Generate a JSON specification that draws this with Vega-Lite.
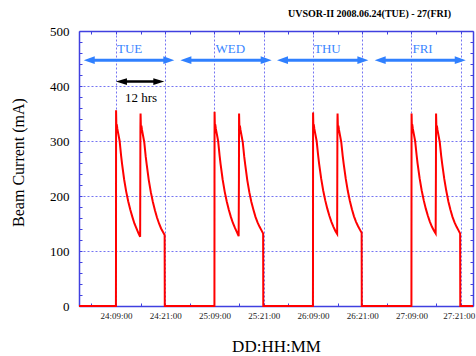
{
  "$schema": "https://vega.github.io/schema/vega-lite/v6.json",
  "autosize": "none",
  "width": 394,
  "height": 275,
  "padding": {"left": 79, "top": 31, "right": 3, "bottom": 50},
  "title": {"text": "UVSOR-II 2008.06.24(TUE) - 27(FRI)", "anchor": "end", "frame": "group", "font": "Liberation Serif", "fontSize": 10, "fontWeight": "bold", "color": "#000", "dx": -22, "offset": -4, "baseline": "bottom"},
  "config": {"font": "Liberation Serif", "view": {"stroke": null}},
  "datasets": {
    "cur": [
      {"t": "2008-06-24T00:00", "v": 0},
      {"t": "2008-06-24T09:00", "v": 0}, {"t": "2008-06-24T09:01", "v": 90}, {"t": "2008-06-24T09:02", "v": 356}, {"t": "2008-06-24T09:07", "v": 322}, {"t": "2008-06-24T09:12", "v": 330}, {"t": "2008-06-24T09:21", "v": 322}, {"t": "2008-06-24T09:36", "v": 312}, {"t": "2008-06-24T09:54", "v": 300}, {"t": "2008-06-24T10:15", "v": 274}, {"t": "2008-06-24T10:30", "v": 258}, {"t": "2008-06-24T11:00", "v": 230}, {"t": "2008-06-24T11:30", "v": 208}, {"t": "2008-06-24T12:00", "v": 190}, {"t": "2008-06-24T12:30", "v": 175}, {"t": "2008-06-24T13:00", "v": 162}, {"t": "2008-06-24T13:30", "v": 150}, {"t": "2008-06-24T14:00", "v": 141}, {"t": "2008-06-24T14:30", "v": 132}, {"t": "2008-06-24T14:54", "v": 126},
      {"t": "2008-06-24T14:58", "v": 326}, {"t": "2008-06-24T15:00", "v": 350}, {"t": "2008-06-24T15:06", "v": 320}, {"t": "2008-06-24T15:12", "v": 328}, {"t": "2008-06-24T15:21", "v": 320}, {"t": "2008-06-24T15:36", "v": 310}, {"t": "2008-06-24T15:54", "v": 298}, {"t": "2008-06-24T16:15", "v": 272}, {"t": "2008-06-24T16:30", "v": 257}, {"t": "2008-06-24T17:00", "v": 229}, {"t": "2008-06-24T17:30", "v": 207}, {"t": "2008-06-24T18:00", "v": 189}, {"t": "2008-06-24T18:30", "v": 174}, {"t": "2008-06-24T19:00", "v": 161}, {"t": "2008-06-24T19:30", "v": 150}, {"t": "2008-06-24T20:00", "v": 141}, {"t": "2008-06-24T20:30", "v": 134}, {"t": "2008-06-24T20:52", "v": 129}, {"t": "2008-06-24T20:54", "v": 0},
      {"t": "2008-06-25T09:00", "v": 0}, {"t": "2008-06-25T09:01", "v": 223}, {"t": "2008-06-25T09:02", "v": 353}, {"t": "2008-06-25T09:07", "v": 322}, {"t": "2008-06-25T09:12", "v": 330}, {"t": "2008-06-25T09:21", "v": 322}, {"t": "2008-06-25T09:36", "v": 312}, {"t": "2008-06-25T09:54", "v": 300}, {"t": "2008-06-25T10:15", "v": 274}, {"t": "2008-06-25T10:30", "v": 258}, {"t": "2008-06-25T11:00", "v": 230}, {"t": "2008-06-25T11:30", "v": 208}, {"t": "2008-06-25T12:00", "v": 190}, {"t": "2008-06-25T12:30", "v": 175}, {"t": "2008-06-25T13:00", "v": 162}, {"t": "2008-06-25T13:30", "v": 151}, {"t": "2008-06-25T14:00", "v": 142}, {"t": "2008-06-25T14:30", "v": 134}, {"t": "2008-06-25T14:54", "v": 127},
      {"t": "2008-06-25T14:58", "v": 229}, {"t": "2008-06-25T15:00", "v": 350}, {"t": "2008-06-25T15:06", "v": 320}, {"t": "2008-06-25T15:12", "v": 328}, {"t": "2008-06-25T15:21", "v": 320}, {"t": "2008-06-25T15:36", "v": 310}, {"t": "2008-06-25T15:54", "v": 298}, {"t": "2008-06-25T16:15", "v": 272}, {"t": "2008-06-25T16:30", "v": 257}, {"t": "2008-06-25T17:00", "v": 229}, {"t": "2008-06-25T17:30", "v": 207}, {"t": "2008-06-25T18:00", "v": 189}, {"t": "2008-06-25T18:30", "v": 175}, {"t": "2008-06-25T19:00", "v": 162}, {"t": "2008-06-25T19:30", "v": 152}, {"t": "2008-06-25T20:00", "v": 144}, {"t": "2008-06-25T20:30", "v": 137}, {"t": "2008-06-25T20:52", "v": 132}, {"t": "2008-06-25T20:54", "v": 0},
      {"t": "2008-06-26T09:00", "v": 0}, {"t": "2008-06-26T09:01", "v": 80}, {"t": "2008-06-26T09:02", "v": 352}, {"t": "2008-06-26T09:07", "v": 322}, {"t": "2008-06-26T09:12", "v": 330}, {"t": "2008-06-26T09:21", "v": 322}, {"t": "2008-06-26T09:36", "v": 312}, {"t": "2008-06-26T09:54", "v": 300}, {"t": "2008-06-26T10:15", "v": 275}, {"t": "2008-06-26T10:30", "v": 259}, {"t": "2008-06-26T11:00", "v": 232}, {"t": "2008-06-26T11:30", "v": 210}, {"t": "2008-06-26T12:00", "v": 192}, {"t": "2008-06-26T12:30", "v": 177}, {"t": "2008-06-26T13:00", "v": 164}, {"t": "2008-06-26T13:30", "v": 153}, {"t": "2008-06-26T14:00", "v": 144}, {"t": "2008-06-26T14:30", "v": 136}, {"t": "2008-06-26T14:54", "v": 131},
      {"t": "2008-06-26T14:58", "v": 335}, {"t": "2008-06-26T15:00", "v": 350}, {"t": "2008-06-26T15:06", "v": 320}, {"t": "2008-06-26T15:12", "v": 328}, {"t": "2008-06-26T15:21", "v": 320}, {"t": "2008-06-26T15:36", "v": 310}, {"t": "2008-06-26T15:54", "v": 298}, {"t": "2008-06-26T16:15", "v": 273}, {"t": "2008-06-26T16:30", "v": 258}, {"t": "2008-06-26T17:00", "v": 231}, {"t": "2008-06-26T17:30", "v": 209}, {"t": "2008-06-26T18:00", "v": 191}, {"t": "2008-06-26T18:30", "v": 176}, {"t": "2008-06-26T19:00", "v": 163}, {"t": "2008-06-26T19:30", "v": 153}, {"t": "2008-06-26T20:00", "v": 145}, {"t": "2008-06-26T20:30", "v": 138}, {"t": "2008-06-26T20:52", "v": 133}, {"t": "2008-06-26T20:54", "v": 0},
      {"t": "2008-06-27T09:00", "v": 0}, {"t": "2008-06-27T09:01", "v": 202}, {"t": "2008-06-27T09:02", "v": 350}, {"t": "2008-06-27T09:07", "v": 322}, {"t": "2008-06-27T09:12", "v": 330}, {"t": "2008-06-27T09:21", "v": 322}, {"t": "2008-06-27T09:36", "v": 312}, {"t": "2008-06-27T09:54", "v": 300}, {"t": "2008-06-27T10:15", "v": 275}, {"t": "2008-06-27T10:30", "v": 259}, {"t": "2008-06-27T11:00", "v": 232}, {"t": "2008-06-27T11:30", "v": 210}, {"t": "2008-06-27T12:00", "v": 192}, {"t": "2008-06-27T12:30", "v": 177}, {"t": "2008-06-27T13:00", "v": 164}, {"t": "2008-06-27T13:30", "v": 153}, {"t": "2008-06-27T14:00", "v": 144}, {"t": "2008-06-27T14:30", "v": 137}, {"t": "2008-06-27T14:54", "v": 132},
      {"t": "2008-06-27T14:58", "v": 244}, {"t": "2008-06-27T15:00", "v": 350}, {"t": "2008-06-27T15:06", "v": 320}, {"t": "2008-06-27T15:12", "v": 328}, {"t": "2008-06-27T15:21", "v": 320}, {"t": "2008-06-27T15:36", "v": 310}, {"t": "2008-06-27T15:54", "v": 298}, {"t": "2008-06-27T16:15", "v": 273}, {"t": "2008-06-27T16:30", "v": 258}, {"t": "2008-06-27T17:00", "v": 231}, {"t": "2008-06-27T17:30", "v": 209}, {"t": "2008-06-27T18:00", "v": 190}, {"t": "2008-06-27T18:30", "v": 175}, {"t": "2008-06-27T19:00", "v": 162}, {"t": "2008-06-27T19:30", "v": 152}, {"t": "2008-06-27T20:00", "v": 144}, {"t": "2008-06-27T20:30", "v": 137}, {"t": "2008-06-27T20:52", "v": 132}, {"t": "2008-06-27T20:54", "v": 0},
      {"t": "2008-06-28T00:00", "v": 0}
    ],
    "days": [
      {"t": "2008-06-24T01:09", "t2": "2008-06-24T23:13", "v": 447, "lx": "2008-06-24T09:00", "lv": 468, "label": "TUE"},
      {"t": "2008-06-25T00:42", "t2": "2008-06-25T22:57", "v": 447, "lx": "2008-06-25T09:00", "lv": 468, "label": "WED"},
      {"t": "2008-06-26T00:15", "t2": "2008-06-26T22:30", "v": 447, "lx": "2008-06-26T09:00", "lv": 468, "label": "THU"},
      {"t": "2008-06-27T00:03", "t2": "2008-06-27T22:14", "v": 447, "lx": "2008-06-27T09:00", "lv": 468, "label": "FRI"}
    ],
    "span": [
      {"t": "2008-06-24T09:00", "t2": "2008-06-24T20:47", "v": 408}
    ],
    "hrs": [
      {"t": "2008-06-24T15:06", "v": 379, "label": "12 hrs"}
    ]
  },
  "encoding": {
    "x": {"field": "t", "type": "temporal", "axis": null, "scale": {"domain": [{"year": 2008, "month": 6, "date": 24, "hours": 0}, {"year": 2008, "month": 6, "date": 28, "hours": 0}]}},
    "y": {"field": "v", "type": "quantitative", "axis": null, "scale": {"domain": [0, 500], "nice": false}}
  },
  "layer": [
    {
      "data": {"name": "cur"},
      "mark": {"type": "line", "color": "#ff0000", "strokeWidth": 2, "clip": false},
      "encoding": {
        "x": {"field": "t", "type": "temporal", "title": "DD:HH:MM",
          "scale": {"domain": [{"year": 2008, "month": 6, "date": 24, "hours": 0}, {"year": 2008, "month": 6, "date": 28, "hours": 0}]},
          "axis": {"orient": "bottom",
            "values": [
              {"year": 2008, "month": 6, "date": 24, "hours": 3}, {"year": 2008, "month": 6, "date": 24, "hours": 9}, {"year": 2008, "month": 6, "date": 24, "hours": 15}, {"year": 2008, "month": 6, "date": 24, "hours": 21},
              {"year": 2008, "month": 6, "date": 25, "hours": 3}, {"year": 2008, "month": 6, "date": 25, "hours": 9}, {"year": 2008, "month": 6, "date": 25, "hours": 15}, {"year": 2008, "month": 6, "date": 25, "hours": 21},
              {"year": 2008, "month": 6, "date": 26, "hours": 3}, {"year": 2008, "month": 6, "date": 26, "hours": 9}, {"year": 2008, "month": 6, "date": 26, "hours": 15}, {"year": 2008, "month": 6, "date": 26, "hours": 21},
              {"year": 2008, "month": 6, "date": 27, "hours": 3}, {"year": 2008, "month": 6, "date": 27, "hours": 9}, {"year": 2008, "month": 6, "date": 27, "hours": 15}, {"year": 2008, "month": 6, "date": 27, "hours": 21}
            ],
            "labelExpr": "(hours(datum.value) == 9 || hours(datum.value) == 21) ? timeFormat(datum.value, '%d:%H:%M') : ''",
            "labelFont": "Liberation Serif", "labelFontSize": 9, "labelColor": "#222", "labelPadding": 8, "labelFlush": false, "labelOverlap": false,
            "labelOffset": {"condition": {"test": "date(datum.value) == 27 && hours(datum.value) == 21", "value": -2}, "value": 0},
            "tickSize": -3, "tickColor": "#4040e0", "tickWidth": 1,
            "domainColor": "#4040e0", "domainWidth": 1.5,
            "grid": true, "gridColor": "#5050f0", "gridDash": [2, 2], "gridWidth": 0.8,
            "gridOpacity": {"condition": {"test": "hours(datum.value) == 9 || hours(datum.value) == 21", "value": 1}, "value": 0},
            "titleFont": "Liberation Serif", "titleFontSize": 17, "titleFontWeight": "normal", "titleColor": "#000",
            "titleX": 197, "titleY": 40, "titleBaseline": "middle", "titleAnchor": "middle"
          }
        },
        "y": {"field": "v", "type": "quantitative", "title": "Beam Current (mA)",
          "scale": {"domain": [0, 500], "nice": false},
          "axis": {"orient": "left",
            "values": [0, 20, 40, 60, 80, 100, 120, 140, 160, 180, 200, 220, 240, 260, 280, 300, 320, 340, 360, 380, 400, 420, 440, 460, 480, 500],
            "labelExpr": "datum.value % 100 == 0 ? datum.label : ''",
            "labelFont": "Liberation Serif", "labelFontSize": 13, "labelColor": "#000", "labelPadding": 13, "labelFlush": false, "labelOverlap": false,
            "tickSize": -3, "tickColor": "#4040e0", "tickWidth": 1,
            "domainColor": "#4040e0", "domainWidth": 1.5,
            "grid": true, "gridColor": "#5050f0", "gridDash": [2, 2], "gridWidth": 0.8,
            "gridOpacity": {"condition": {"test": "datum.value % 100 == 0 && datum.value > 0 && datum.value < 500", "value": 1}, "value": 0},
            "titleFont": "Liberation Serif", "titleFontSize": 16, "titleFontWeight": "normal", "titleColor": "#000",
            "titleX": -61, "titleY": 131, "titleAngle": -90, "titleBaseline": "middle", "titleAnchor": "middle"
          }
        }
      }
    },
    {
      "data": {"name": "days"},
      "mark": {"type": "rule", "color": "#3080ff", "strokeWidth": 3, "xOffset": 6, "x2Offset": -6},
      "encoding": {
        "x": {"field": "t", "type": "temporal",
          "scale": {"domain": [{"year": 2008, "month": 6, "date": 24, "hours": 0}, {"year": 2008, "month": 6, "date": 28, "hours": 0}]},
          "axis": {"orient": "top", "title": null, "labels": false, "grid": false,
            "values": [
              {"year": 2008, "month": 6, "date": 24, "hours": 3}, {"year": 2008, "month": 6, "date": 24, "hours": 9}, {"year": 2008, "month": 6, "date": 24, "hours": 15}, {"year": 2008, "month": 6, "date": 24, "hours": 21},
              {"year": 2008, "month": 6, "date": 25, "hours": 3}, {"year": 2008, "month": 6, "date": 25, "hours": 9}, {"year": 2008, "month": 6, "date": 25, "hours": 15}, {"year": 2008, "month": 6, "date": 25, "hours": 21},
              {"year": 2008, "month": 6, "date": 26, "hours": 3}, {"year": 2008, "month": 6, "date": 26, "hours": 9}, {"year": 2008, "month": 6, "date": 26, "hours": 15}, {"year": 2008, "month": 6, "date": 26, "hours": 21},
              {"year": 2008, "month": 6, "date": 27, "hours": 3}, {"year": 2008, "month": 6, "date": 27, "hours": 9}, {"year": 2008, "month": 6, "date": 27, "hours": 15}, {"year": 2008, "month": 6, "date": 27, "hours": 21}
            ],
            "tickSize": -3, "tickColor": "#4040e0", "tickWidth": 1, "domainColor": "#4040e0", "domainWidth": 1.5
          }
        },
        "x2": {"field": "t2"},
        "y": {"field": "v", "type": "quantitative",
          "scale": {"domain": [0, 500], "nice": false},
          "axis": {"orient": "right", "title": null, "labels": false, "grid": false,
            "values": [0, 20, 40, 60, 80, 100, 120, 140, 160, 180, 200, 220, 240, 260, 280, 300, 320, 340, 360, 380, 400, 420, 440, 460, 480, 500],
            "tickSize": -3, "tickColor": "#4040e0", "tickWidth": 1, "domainColor": "#4040e0", "domainWidth": 1.5
          }
        }
      }
    },
    {
      "data": {"name": "days"},
      "mark": {"type": "point", "shape": "M-1,0L1,-0.7L1,0.7Z", "size": 121, "filled": true, "opacity": 1, "color": "#3080ff", "xOffset": 5.5},
      "encoding": {}
    },
    {
      "data": {"name": "days"},
      "mark": {"type": "point", "shape": "M1,0L-1,-0.7L-1,0.7Z", "size": 121, "filled": true, "opacity": 1, "color": "#3080ff", "xOffset": -5.5},
      "encoding": {
        "x": {"field": "t2", "type": "temporal", "axis": null, "scale": {"domain": [{"year": 2008, "month": 6, "date": 24, "hours": 0}, {"year": 2008, "month": 6, "date": 28, "hours": 0}]}}
      }
    },
    {
      "data": {"name": "days"},
      "mark": {"type": "text", "color": "#3a86ff", "font": "Liberation Serif", "fontSize": 13, "align": "left", "baseline": "middle", "dx": 1},
      "encoding": {
        "x": {"field": "lx", "type": "temporal", "axis": null, "scale": {"domain": [{"year": 2008, "month": 6, "date": 24, "hours": 0}, {"year": 2008, "month": 6, "date": 28, "hours": 0}]}},
        "y": {"field": "lv", "type": "quantitative", "axis": null, "scale": {"domain": [0, 500], "nice": false}},
        "text": {"field": "label"}
      }
    },
    {
      "data": {"name": "span"},
      "mark": {"type": "rule", "color": "#000", "strokeWidth": 2.5, "xOffset": 6, "x2Offset": -6},
      "encoding": {"x2": {"field": "t2"}}
    },
    {
      "data": {"name": "span"},
      "mark": {"type": "point", "shape": "M-1,0L1,-0.6L1,0.6Z", "size": 121, "filled": true, "opacity": 1, "color": "#000", "xOffset": 5.5},
      "encoding": {}
    },
    {
      "data": {"name": "span"},
      "mark": {"type": "point", "shape": "M1,0L-1,-0.6L-1,0.6Z", "size": 121, "filled": true, "opacity": 1, "color": "#000", "xOffset": -5.5},
      "encoding": {
        "x": {"field": "t2", "type": "temporal", "axis": null, "scale": {"domain": [{"year": 2008, "month": 6, "date": 24, "hours": 0}, {"year": 2008, "month": 6, "date": 28, "hours": 0}]}}
      }
    },
    {
      "data": {"name": "hrs"},
      "mark": {"type": "text", "color": "#000", "font": "Liberation Serif", "fontSize": 13, "align": "center", "baseline": "middle"},
      "encoding": {"text": {"field": "label"}}
    }
  ],
  "resolve": {"axis": {"x": "independent", "y": "independent"}}
}
